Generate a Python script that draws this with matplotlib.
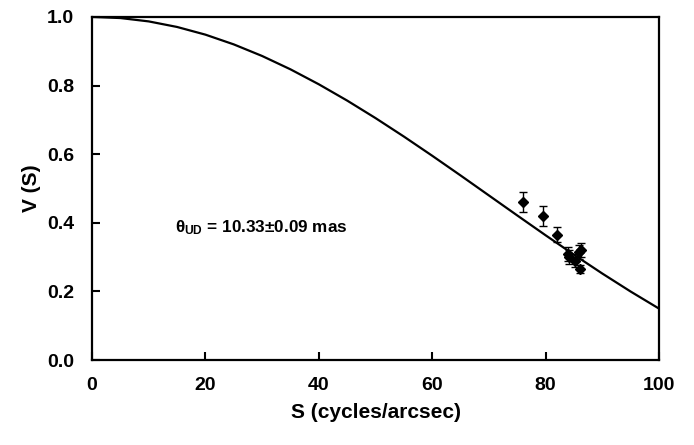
import matplotlib
matplotlib.use("Agg")
import matplotlib.pyplot as plt

# Uniform-disk model curve
curve_s = [0, 5, 10, 15, 20, 25, 30, 35, 40, 45, 50, 55, 60, 65, 70, 75, 80, 85, 90, 95, 100]
curve_v = [1.0, 0.9967, 0.9869, 0.9707, 0.9483, 0.9199, 0.8861, 0.8472, 0.8036, 0.7561,
           0.7051, 0.6513, 0.5953, 0.5379, 0.4796, 0.4213, 0.3635, 0.3069, 0.2520, 0.1995, 0.1498]

# Measured visibilities
obs_s = [76.0, 79.5, 82.0, 84.0, 84.2, 85.2, 85.8, 86.2, 86.0]
obs_v = [0.46, 0.42, 0.365, 0.31, 0.30, 0.29, 0.315, 0.32, 0.265]
obs_err = [0.03, 0.028, 0.022, 0.02, 0.02, 0.02, 0.02, 0.02, 0.012]

x_ticks = [0, 20, 40, 60, 80, 100]
y_ticks = [0.0, 0.2, 0.4, 0.6, 0.8, 1.0]

plt.rcParams['font.family'] = ['Liberation Sans', 'DejaVu Sans']
plt.rcParams['font.weight'] = 'bold'
plt.rcParams['mathtext.fontset'] = 'custom'
plt.rcParams['mathtext.rm'] = 'Liberation Sans:bold'
plt.rcParams['mathtext.it'] = 'Liberation Sans:bold'
plt.rcParams['mathtext.bf'] = 'Liberation Sans:bold'

fig = plt.figure(figsize=(6.94, 4.45), dpi=100)
ax = fig.add_axes([0.1326, 0.191, 0.817, 0.771])

ax.plot(curve_s, curve_v, color='black', lw=1.6)
ax.errorbar(obs_s, obs_v, yerr=obs_err, fmt='D', color='black', ms=5.2,
            ecolor='black', elinewidth=1.0, capsize=3.2, capthick=1.0)

ax.set_xlim(0, 100)
ax.set_ylim(0, 1.0)
ax.set_xticks(x_ticks)
ax.set_yticks(y_ticks)
ax.set_xticklabels([str(t) for t in x_ticks])
ax.set_yticklabels([f"{t:.1f}" for t in y_ticks])
ax.tick_params(direction='in', length=6, width=1.5, labelsize=14)
ax.tick_params(axis='x', pad=12)
ax.tick_params(axis='y', pad=13)
for sp in ax.spines.values():
    sp.set_linewidth(1.6)

ax.set_xlabel('S (cycles/arcsec)', fontsize=15, fontweight='bold', labelpad=7)
ax.set_ylabel('V (S)', fontsize=15, fontweight='bold', labelpad=4)

ax.text(14.6, 0.385, r'$\theta_{\rm UD}$ = 10.33±0.09 mas', fontsize=12.3,
        fontweight='bold', va='center', ha='left')

fig.savefig('out.png', dpi=100)
